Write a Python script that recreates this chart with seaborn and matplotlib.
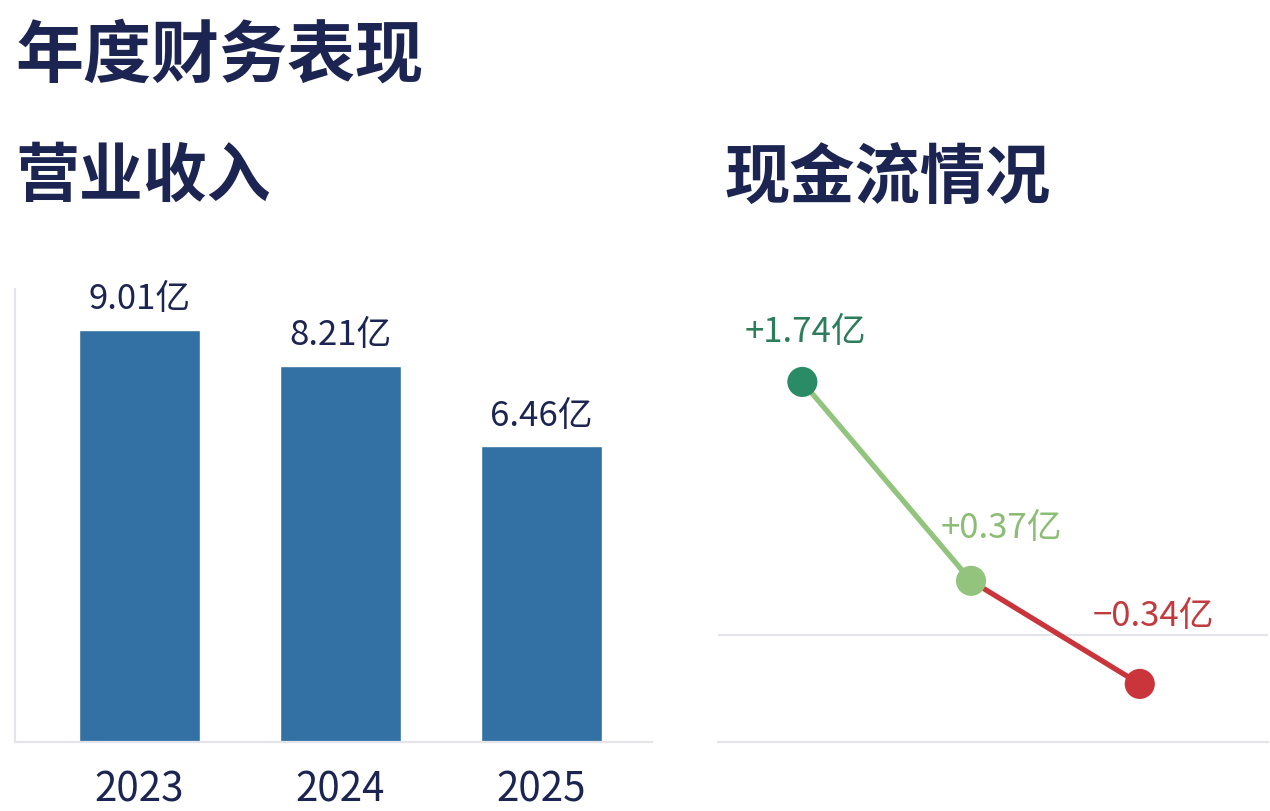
import numpy as np
import pandas as pd
import seaborn as sns
import matplotlib
matplotlib.use("Agg")
import matplotlib.pyplot as plt

# data
years = ["2023", "2024", "2025"]
revenue = [9.01, 8.21, 6.46]          # 营业收入, 亿
cashflow = [1.74, 0.37, -0.34]        # 现金流, 亿
revenue_labels = ["9.01亿", "8.21亿", "6.46亿"]
cashflow_labels = ["+1.74亿", "+0.37亿", "−0.34亿"]

NAVY = "#1c2452"
BAR = "#3371a5"
GRID = "#e4e5ea"
point_colors = ["#2a8c66", "#93c47d", "#c9353b"]
label_colors = ["#2b7d5b", "#8cbd74", "#c23a3e"]

sns.set_theme(style="white")
plt.rcParams["font.family"] = ["Noto Sans CJK SC", "DejaVu Sans"]

W, H = 1270, 812
fig = plt.figure(figsize=(W / 100, H / 100), dpi=100)
fig.patch.set_facecolor("white")


def px_axes(x0, y0, x1, y1):
    # pixel box (top-left origin) -> figure fraction
    return fig.add_axes([x0 / W, 1 - y1 / H, (x1 - x0) / W, (y1 - y0) / H])


fig.text(15 / W, 1 - 57 / H, "年度财务表现", fontsize=49, fontweight="bold",
         color=NAVY, va="center", ha="left")
fig.text(15 / W, 1 - 177 / H, "营业收入", fontsize=46, fontweight="bold",
         color=NAVY, va="center", ha="left")
fig.text(724 / W, 1 - 179 / H, "现金流情况", fontsize=47, fontweight="bold",
         color=NAVY, va="center", ha="left")

# ---- revenue bars
rev = pd.DataFrame({"year": years, "value": revenue})
ax1 = px_axes(15, 290, 652, 743)
sns.barplot(data=rev, x="year", y="value", color=BAR, saturation=1,
            width=0.6, ax=ax1)
for i, (v, s) in enumerate(zip(revenue, revenue_labels)):
    ax1.annotate(s, (i, v), xytext=(0, 10), textcoords="offset points",
                 ha="center", va="bottom", fontsize=25, fontweight=500,
                 color=NAVY)
ax1.set_xlim(-0.62, 2.55)
ax1.set_ylim(0, 9.9)
ax1.set_yticks([])
ax1.set_xlabel("")
ax1.set_ylabel("")
ax1.tick_params(axis="x", length=0, pad=19, labelsize=29, labelcolor=NAVY)
for t in ax1.get_xticklabels():
    t.set_fontweight(500)
sns.despine(ax=ax1)
for side in ["left", "bottom"]:
    ax1.spines[side].set_color(GRID)
    ax1.spines[side].set_linewidth(1.6)

# ---- cash flow line
cf = pd.DataFrame({"year": years, "value": cashflow})
cf["pos"] = np.arange(len(cf))
ax2 = px_axes(718, 290, 1268, 743)
ax2.axhline(0, color=GRID, lw=1.6, zorder=0)
seg_colors = [point_colors[1], point_colors[2]]
for k in range(len(cf) - 1):
    sns.lineplot(data=cf.iloc[k:k + 2], x="pos", y="value", color=seg_colors[k],
                 lw=3.8, ax=ax2, zorder=2)
sns.scatterplot(data=cf, x="pos", y="value", hue="year", palette=point_colors,
                s=470, edgecolor="none", legend=False, ax=ax2, zorder=3)
offsets = [(2, 24), (22, 26), (10, 37)]
for i, (v, s) in enumerate(zip(cashflow, cashflow_labels)):
    ax2.annotate(s, (i, v), xytext=offsets[i], textcoords="offset points",
                 ha="center", va="bottom", fontsize=25, fontweight=500,
                 color=label_colors[i])
ax2.set_xlim(-0.5, 2.76)
ax2.set_ylim(-0.74, 2.38)
ax2.set_xticks([])
ax2.set_yticks([])
ax2.set_xlabel("")
ax2.set_ylabel("")
sns.despine(ax=ax2, left=True)
ax2.spines["bottom"].set_color(GRID)
ax2.spines["bottom"].set_linewidth(1.6)

fig.savefig("out.png", dpi=100, facecolor="white")
